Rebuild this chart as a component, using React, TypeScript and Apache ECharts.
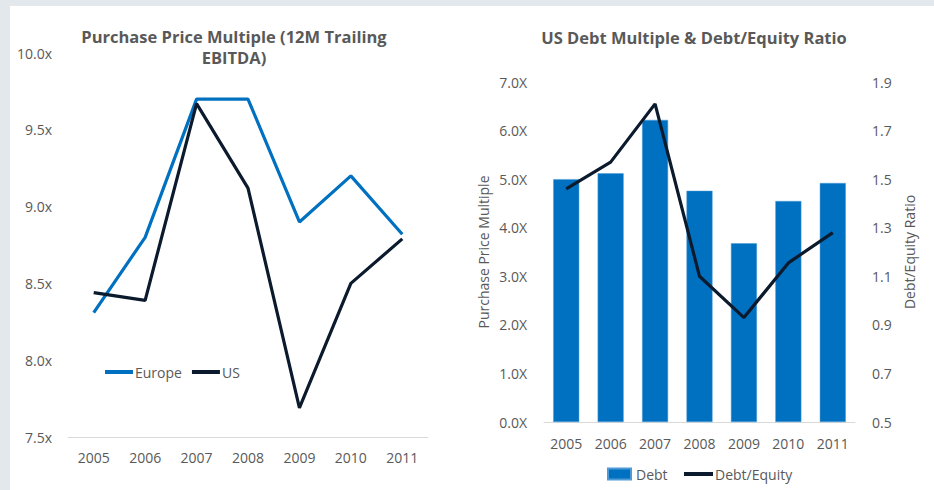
import React, { useEffect, useRef } from "react";
import * as echarts from "echarts";

const years = ["2005", "2006", "2007", "2008", "2009", "2010", "2011"];
const europe = [8.31, 8.8, 9.7, 9.7, 8.9, 9.2, 8.82];
const us = [8.44, 8.39, 9.67, 9.12, 7.69, 8.5, 8.79];
const debt = [5.0, 5.12, 6.22, 4.76, 3.68, 4.55, 4.92];
const debtEquity = [1.46, 1.57, 1.81, 1.1, 0.93, 1.155, 1.28];

const leftTitle = "Purchase Price Multiple (12M Trailing\nEBITDA)";
const rightTitle = "US Debt Multiple & Debt/Equity Ratio";

const BLUE = "#0070c0";
const NAVY = "#0c1a2d";
const GRAY = "#595959";
const FONT = "Open Sans";

export default function App() {
  const ref = useRef<HTMLDivElement>(null);
  useEffect(() => {
    if (!ref.current) return;
    const chart = echarts.init(ref.current, null, { renderer: "svg" });
    const axisLabel = { color: GRAY, fontSize: 14, fontFamily: FONT };
    chart.setOption({
      animation: false,
      backgroundColor: "transparent",
      textStyle: { fontFamily: FONT },
      graphic: [
        {
          type: "text",
          x: 234,
          y: 47,
          style: {
            text: leftTitle,
            textAlign: "center",
            textVerticalAlign: "middle",
            fill: GRAY,
            font: `bold 16.5px "${FONT}"`,
            lineHeight: 21,
          },
        },
        {
          type: "text",
          x: 694,
          y: 37,
          style: {
            text: rightTitle,
            textAlign: "center",
            textVerticalAlign: "middle",
            fill: GRAY,
            font: `bold 16.5px "${FONT}"`,
          },
        },
      ],
      legend: [
        {
          data: [
            { name: "Europe", icon: "rect" },
            { name: "US", icon: "rect" },
          ],
          left: 100,
          top: 360,
          itemWidth: 28,
          itemHeight: 4,
          itemGap: 10,
          textStyle: { color: GRAY, fontSize: 14, fontFamily: FONT, padding: [0, 0, 0, -3] },
        },
        {
          data: [{ name: "Debt", icon: "rect" }],
          left: 602,
          top: 462,
          itemWidth: 23,
          itemHeight: 11,
          textStyle: { color: GRAY, fontSize: 14, fontFamily: FONT },
        },
        {
          data: [{ name: "Debt/Equity", icon: "rect" }],
          left: 679,
          top: 462,
          itemWidth: 29,
          itemHeight: 4,
          textStyle: { color: GRAY, fontSize: 14, fontFamily: FONT, padding: [0, 0, 0, -3] },
        },
      ],
      grid: [
        { left: 68, right: 506, top: 53, bottom: 53 },
        { left: 544, right: 79, top: 82, bottom: 68 },
      ],
      xAxis: [
        {
          type: "category",
          gridIndex: 0,
          data: years,
          axisLine: { lineStyle: { color: "#d9d9d9" } },
          axisTick: { show: false },
          axisLabel: { ...axisLabel, margin: 13 },
        },
        {
          type: "category",
          gridIndex: 1,
          data: years,
          axisLine: { lineStyle: { color: "#d9d9d9" } },
          axisTick: { show: false },
          axisLabel: { ...axisLabel, margin: 14 },
        },
      ],
      yAxis: [
        {
          type: "value",
          gridIndex: 0,
          min: 7.5,
          max: 10,
          interval: 0.5,
          splitLine: { show: false },
          axisLine: { show: false },
          axisTick: { show: false },
          axisLabel: { ...axisLabel, margin: 16, formatter: (v: number) => v.toFixed(1) + "x" },
        },
        {
          type: "value",
          gridIndex: 1,
          min: 0,
          max: 7,
          interval: 1,
          name: "Purchase Price Multiple",
          nameLocation: "middle",
          nameGap: 54,
          nameTextStyle: { color: GRAY, fontSize: 14, fontFamily: FONT },
          splitLine: { show: false },
          axisLine: { show: false },
          axisTick: { show: false },
          axisLabel: { ...axisLabel, margin: 17, formatter: (v: number) => v.toFixed(1) + "X" },
        },
        {
          type: "value",
          gridIndex: 1,
          position: "right",
          min: 0.5,
          max: 1.9,
          alignTicks: true,
          name: "Debt/Equity Ratio",
          nameLocation: "middle",
          nameGap: 47,
          nameRotate: 90,
          nameTextStyle: { color: GRAY, fontSize: 14, fontFamily: FONT },
          splitLine: { show: false },
          axisLine: { show: false },
          axisTick: { show: false },
          axisLabel: { ...axisLabel, margin: 17, formatter: (v: number) => v.toFixed(1) },
        },
      ],
      series: [
        {
          name: "Europe",
          type: "line",
          xAxisIndex: 0,
          yAxisIndex: 0,
          data: europe,
          symbol: "none",
          color: BLUE,
          lineStyle: { width: 3.2, color: BLUE },
        },
        {
          name: "US",
          type: "line",
          xAxisIndex: 0,
          yAxisIndex: 0,
          data: us,
          symbol: "none",
          color: NAVY,
          lineStyle: { width: 3.2, color: NAVY },
        },
        {
          name: "Debt",
          type: "bar",
          xAxisIndex: 1,
          yAxisIndex: 1,
          data: debt,
          barWidth: 26,
          color: BLUE,
          itemStyle: { color: BLUE, borderColor: "#4d9ad6", borderWidth: 0.5 },
        },
        {
          name: "Debt/Equity",
          type: "line",
          xAxisIndex: 1,
          yAxisIndex: 2,
          data: debtEquity,
          symbol: "none",
          color: NAVY,
          lineStyle: { width: 3.2, color: NAVY },
          z: 5,
        },
      ],
    });
    return () => chart.dispose();
  }, []);
  return (
    <div style={{ position: "fixed", left: 0, top: 0, width: 934, height: 490, background: "#e2e8eb" }}>
      <div style={{ position: "absolute", left: 10, top: 6, width: 924, height: 484, background: "#ffffff" }} />
      <div ref={ref} style={{ position: "absolute", left: 0, top: 0, width: 934, height: 490 }} />
    </div>
  );
}
